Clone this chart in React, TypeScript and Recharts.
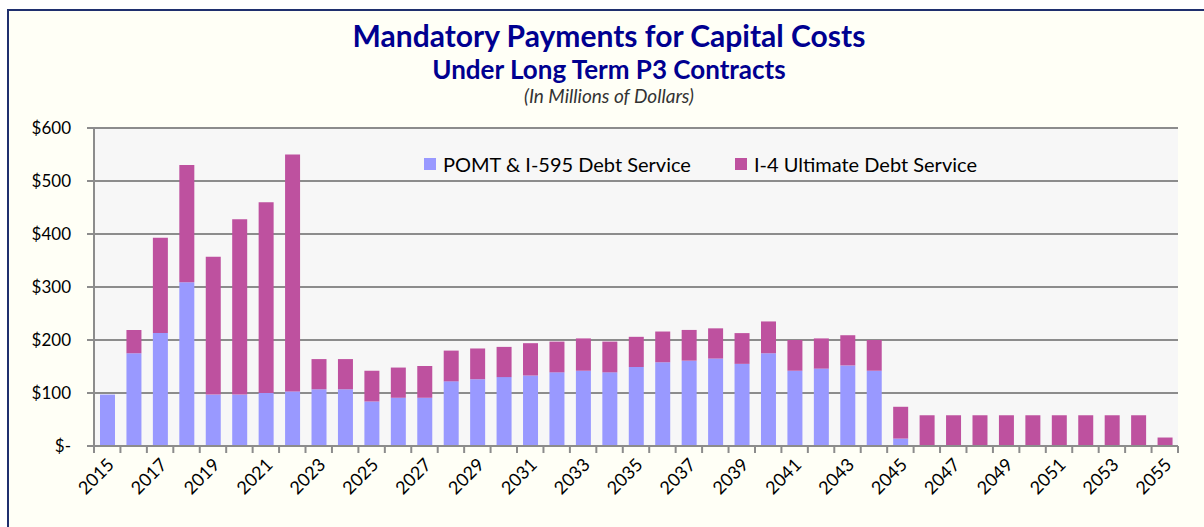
import { Bar, BarChart, CartesianGrid, Legend, XAxis, YAxis } from "recharts"

const years = [
  "2015", "2016", "2017", "2018", "2019", "2020", "2021", "2022", "2023", "2024",
  "2025", "2026", "2027", "2028", "2029", "2030", "2031", "2032", "2033", "2034",
  "2035", "2036", "2037", "2038", "2039", "2040", "2041", "2042", "2043", "2044",
  "2045", "2046", "2047", "2048", "2049", "2050", "2051", "2052", "2053", "2054",
  "2055",
]

const pomtDebt = [
  97, 175, 213, 309, 97, 97, 100, 103, 107, 107,
  84, 91, 91, 122, 126, 130, 133, 139, 142, 139,
  149, 158, 161, 165, 155, 175, 142, 146, 152, 142,
  14, 0, 0, 0, 0, 0, 0, 0, 0, 0,
  0,
]

const i4Debt = [
  0, 44, 180, 221, 260, 331, 360, 447, 57, 57,
  58, 57, 60, 58, 58, 57, 61, 58, 61, 58,
  57, 58, 58, 57, 58, 60, 58, 57, 57, 58,
  60, 58, 58, 58, 58, 58, 58, 58, 58, 58,
  16,
]

const yTicks = [0, 100, 200, 300, 400, 500, 600]

const data = years.map((year, i) => ({ year, pomt: pomtDebt[i], i4: i4Debt[i] }))

const BLUE = "#9999FF"
const MAGENTA = "#BE519F"
const GRID = "#8C8C8C"
const FONT = "Lato, 'Open Sans', sans-serif"

const W = 1204
const H = 527
const PLOT_LEFT = 94
const PLOT_RIGHT = 1178
const BAND = (PLOT_RIGHT - PLOT_LEFT) / years.length

function YearTick(props: any) {
  const { x, y, index, payload } = props
  const last = index === years.length - 1
  return (
    <g>
      <line x1={x - BAND / 2} x2={x - BAND / 2} y1={y} y2={y + 7} stroke={GRID} strokeWidth={2} />
      {last && <line x1={x + BAND / 2} x2={x + BAND / 2} y1={y} y2={y + 7} stroke={GRID} strokeWidth={2} />}
      {index % 2 === 0 && (
        <text
          x={x + 3}
          y={y + 15}
          transform={`rotate(-45, ${x + 3}, ${y + 15})`}
          textAnchor="end"
          dominantBaseline="central"
          fontSize={18}
          fontFamily={FONT}
          fill="#000"
        >
          {payload.value}
        </text>
      )}
    </g>
  )
}

function LegendBox() {
  const items = [
    { label: "POMT & I-595 Debt Service", color: BLUE },
    { label: "I-4 Ultimate Debt Service", color: MAGENTA },
  ]
  return (
    <div style={{ display: "flex", gap: 44, fontFamily: FONT, fontSize: 20, color: "#000", whiteSpace: "nowrap" }}>
      {items.map((it) => (
        <div key={it.label} style={{ display: "flex", alignItems: "center" }}>
          <span style={{ width: 12, height: 12, background: it.color, marginRight: 7, display: "inline-block" }} />
          {it.label}
        </div>
      ))}
    </div>
  )
}

export default function App() {
  return (
    <div style={{ position: "absolute", left: 0, top: 0, width: W, height: H, overflow: "hidden", background: "#fff" }}>
      <div
        style={{
          position: "absolute",
          left: 7,
          top: 9,
          width: W + 40,
          height: H + 40,
          border: "2px solid #1F2F6E",
          background: "#FFFFF6",
        }}
      />
      <div style={{ position: "absolute", left: 0, width: W + 14, textAlign: "center", fontFamily: FONT, color: "#000090" }}>
        <div style={{ position: "absolute", top: 17, width: "100%", fontSize: 30, fontWeight: 700 }}>
          Mandatory Payments for Capital Costs
        </div>
        <div style={{ position: "absolute", top: 53, width: "100%", fontSize: 26, fontWeight: 700 }}>
          Under Long Term P3 Contracts
        </div>
        <div style={{ position: "absolute", top: 84, width: "100%", fontSize: 19, fontStyle: "italic", color: "#333" }}>
          (In Millions of Dollars)
        </div>
      </div>
      <div style={{ position: "absolute", left: 0, top: 0 }}>
        <BarChart
          width={W}
          height={H}
          data={data}
          margin={{ top: 128, right: W - PLOT_RIGHT, bottom: 0, left: 0 }}
          barSize={15}
        >
          <CartesianGrid vertical={false} stroke={GRID} strokeWidth={2} fill="#F7F7F7" />
          <XAxis
            dataKey="year"
            interval={0}
            tickLine={false}
            tickSize={0}
            tickMargin={0}
            height={81}
            axisLine={{ stroke: GRID, strokeWidth: 2 }}
            tick={<YearTick />}
          />
          <YAxis
            width={PLOT_LEFT}
            domain={[0, 600]}
            ticks={yTicks}
            interval={0}
            tickSize={7}
            tickMargin={16}
            axisLine={{ stroke: GRID, strokeWidth: 2 }}
            tickLine={{ stroke: GRID, strokeWidth: 2 }}
            tick={{ fill: "#000", fontSize: 17, fontFamily: FONT }}
            tickFormatter={(v: number) => (v === 0 ? "$-" : `$${v}`)}
          />
          <Legend
            verticalAlign="middle"
            content={<LegendBox />}
            wrapperStyle={{ position: "absolute", top: 152, left: 424, width: "auto" }}
          />
          <Bar dataKey="pomt" stackId="a" fill={BLUE} isAnimationActive={false} name="POMT & I-595 Debt Service" />
          <Bar dataKey="i4" stackId="a" fill={MAGENTA} isAnimationActive={false} name="I-4 Ultimate Debt Service" />
        </BarChart>
      </div>
    </div>
  )
}
